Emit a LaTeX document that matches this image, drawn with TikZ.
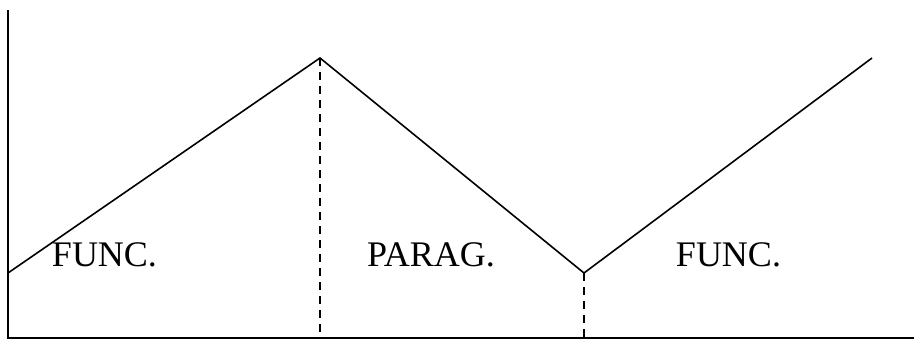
\documentclass[tikz,border=0pt]{standalone}
\usepackage{fontspec}
\setmainfont{Liberation Serif}
\usetikzlibrary{positioning}

\begin{document}
\begin{tikzpicture}[x=1pt, y=-1pt, line width=1.6pt,
    zone/.style={anchor=base, font=\fontsize{36}{40}\selectfont, inner sep=0pt},
    guide/.style={dash pattern=on 8pt off 6pt, line width=1.5pt}]
    \useasboundingbox (0,0) rectangle (914,340);
    % --- axes ---
    \coordinate (top) at (8,10);
    \coordinate (origin) at (8,338);
    \coordinate (right) at (914,338);
    \draw (top) -- (origin) -- (right);
    % --- the zig-zag ---
    \coordinate (start) at (8,273);
    \coordinate (peak) at (320,58);
    \coordinate (valley) at (584,273);
    \coordinate (stop) at (872,58);
    \draw[line join=miter] (start) -- (peak) -- (valley) -- (stop);
    % --- dashed borders down to the axis ---
    \coordinate (peakfoot) at (320,338);
    \coordinate (valleyfoot) at (584,338);
    \draw[guide] (peak) -- (peakfoot);
    \draw[guide] (valley) -- (valleyfoot);
    % --- zone labels ---
    \node[zone] (func1) at (104.5,266) {FUNC.};
    \node[zone] (parag) at (431,266) {PARAG.};
    \node[zone] (func2) at (728.5,266) {FUNC.};
\end{tikzpicture}
\end{document}
